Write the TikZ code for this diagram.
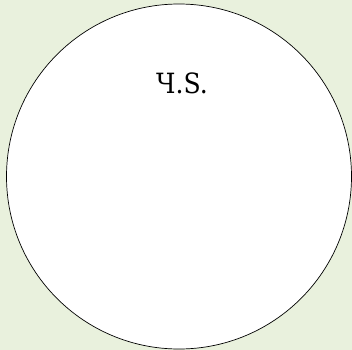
\documentclass[tikz,border=0pt]{standalone}
\usepackage{fontspec}
\setmainfont{DejaVu Serif Condensed}
\usepackage{tikz}
\usetikzlibrary{positioning}
\definecolor{bggreen}{RGB}{233, 241, 221}

\begin{document}
\begin{tikzpicture}[
        x=1bp, y=-1bp,
        cell/.style={draw=black, fill=white, circle, minimum size=345bp, inner sep=0pt, line width=0.7pt},
        tag/.style={font=\fontsize{28}{32}\selectfont, inner sep=0pt}
    ]
        % Background
        \fill[bggreen] (0,0) rectangle (352,350);
        \useasboundingbox (0,0) rectangle (352,350);

        % Circle
        \node[cell] (round) at (179, 176.5) {};

        % Label
        \node[tag, anchor=base] (name) at (182, 93) {Ч.S.};
    \end{tikzpicture}
\end{document}
